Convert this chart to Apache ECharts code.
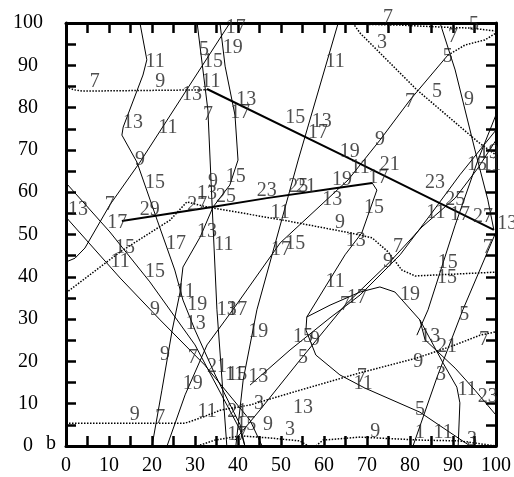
<!DOCTYPE html>
<html>
<head>
<meta charset="utf-8">
<script src="https://cdn.jsdelivr.net/npm/echarts@6/dist/echarts.min.js"></script>
<style>
  html, body { margin: 0; padding: 0; background: #fff; }
  #chart { width: 514px; height: 477px; }
</style>
</head>
<body>
<div id="chart"></div>
<script>
// Axis ranges and labelled ticks
const xRange = [0, 100];
const yRange = [0, 100];
const tickStep = 5;
const labelStep = 10;
const xAxisTitle = 'b';

// Contour paths, [x, y] in data units
const dottedA = [[0,84.9],[1.9,84.2],[3.7,83.9],[32.8,84.2]];
const thickB = [[32.8,84.4],[66.2,67.8],[99.5,51.1]];
const thickT = [[13,53.2],[34,56.5],[46.7,58.6],[63,61],[71.2,62.2]];
const solidP = [[71.2,62.2],[72.3,60.5],[68.8,50.4],[64.9,45.2],[56,30.5],[55.8,27.4],[58.1,21.5],[63.7,16.8],[69.5,13.7],[82.3,8],[91.2,1.9],[94,0]];
const solidC = [[38.1,100],[17.2,67.1],[10.2,57],[4.4,46.8],[2.1,44.4],[0,43.5]];
const solidD = [[88.8,92.4],[80,81.8],[73,72.3],[65.6,62.9],[49.8,48],[38.8,32.2],[32.8,23.9],[27.7,12.1],[23.5,0]];
const dottedE = [[0,36.2],[12.6,45.9],[24.2,53.4],[28.1,57.7],[32.8,56.5],[50.5,53.4],[66,50.4],[71.2,49.2],[74.9,45.9],[78.1,41.6],[81.2,40.2],[100,41.1]];
const dottedF = [[66.7,100],[68.4,97.6],[81.6,84.2],[95.8,71.9],[100,68.8]];
const dottedG = [[64.9,99.8],[77.7,99.5],[88.1,99],[94,98.8],[100,98.1]];
const dottedH = [[88.8,92.4],[92.8,94.8],[97.4,96],[100,97.6]];
const solidI = [[87,100],[90.5,88.9],[95.1,70],[98.1,58.2],[99.5,51.1]];
const solidJ = [[63.3,100],[54,67.6],[44.4,32.2],[41.2,15.6],[39.5,0]];
const solidK1 = [[30.5,100],[33,79.4],[34,56.5],[35.1,32.2],[37.4,0]];
const solidK2 = [[35.8,100],[37,89.8],[39.3,78.2],[40,67.6],[38.1,61.7],[34.2,56.5],[31.2,49.4],[27.2,42.3],[26.5,36.2],[24.7,27.4],[22.3,13.2],[20,0]];
const solidM = [[17.2,100],[18.8,91.3],[17.9,87.7],[13.3,75.4],[13,73.5],[16.5,67.1],[21.2,53.4],[25.3,41.6],[27.2,34.5],[30,27.4],[34.7,16.8],[40.5,5],[41.6,0]];
const solidN1 = [[0,62.2],[10.2,50.6],[19.5,38.8],[30,23.9],[40.5,3.8],[41.6,0]];
const solidN2 = [[0,54.1],[12.6,39.7],[21.9,29.8],[32.3,19.1],[42.8,6.1],[45.6,0]];
const solidQ = [[56,30.5],[61.4,33.3],[68.4,36.4],[73,37.6],[76.5,36.4],[82.3,29.8],[83.5,25.1],[90.5,18.4],[95.1,13.2],[100,7.3]];
const solidR = [[82.3,29.8],[87.7,19.6],[90.9,13.9],[91.6,10.2],[91.2,0]];
const solidS1 = [[80.7,0],[86.3,16.3],[92.3,32.2],[100,50.6]];
const solidS2 = [[100,78.3],[95.8,67.6],[90.5,52.2],[84.2,32.2],[81.6,26.2]];
const solidX1 = [[39.3,1.4],[45.1,8.5],[54.4,20.3],[64.9,33.3],[75.3,43.5],[82.8,51.8],[90.5,58.6],[95.8,65.7],[100,72.3]];
const solidX2 = [[42.8,14.4],[52.1,22.7],[61.4,30.3],[68.4,35.7],[77.7,45.2],[84.7,54.6],[91.6,64.1],[100,74.7]];
const dottedV = [[0,5.4],[27.7,5.4],[31.2,6.6],[36,8.5],[42.8,9.7],[54.4,13.2],[68.4,17.3],[81.6,20.8],[90.5,23.9],[96.3,26.2],[100,27]];
const dottedW1 = [[30.5,0],[34.7,1.4],[40.5,2.4],[47.4,1.9],[54.4,1.2],[56.3,0]];
const dottedW2 = [[58.1,0],[59.8,1.4],[68.4,2.1],[82.3,1.4],[91.6,1.2],[100,0]];

// Contour level labels: [x, y, level]
const levelLabels = [
  [6.7,86.1,'7'],[21.9,86.1,'9'],[29.3,83,'13'],[20.7,90.8,'11'],[15.6,76.4,'13'],[23.7,75.2,'11'],
  [17.2,67.6,'9'],[20.7,62.2,'15'],[10.2,57,'7'],[2.8,55.8,'13'],[11.9,52.7,'17'],[19.5,55.8,'29'],
  [30.5,57,'27'],[32.8,59.6,'13'],[37.2,58.9,'25'],[34.2,62.4,'9'],[39.5,63.6,'15'],[46.7,60.3,'23'],
  [54,61.2,'25'],[55.8,61.2,'21'],[64.2,62.9,'19'],[61.9,58.2,'13'],[49.8,55.1,'11'],
  [13.7,46.8,'15'],[12.6,43.5,'11'],[25.6,47.8,'17'],[20.7,41.1,'15'],[27.7,36.4,'11'],[30.5,33.3,'19'],
  [30.2,28.8,'13'],[20.7,32.2,'9'],[32.8,50.6,'13'],[36.7,47.5,'11'],[50,46.3,'17'],[53.3,47.8,'15'],
  [63.7,52.7,'9'],[67.4,48.5,'13'],[71.6,56.3,'15'],[77.2,47,'7'],[74.9,43.5,'9'],[88.8,43.3,'15'],
  [88.6,39.7,'15'],[98.1,46.8,'7'],[62.6,38.8,'11'],[67.7,35,'17'],[64.9,33.3,'7'],[80,35.7,'19'],
  [92.6,31,'5'],[84.7,25.8,'13'],[88.6,23.4,'21'],[97.2,25.1,'7'],[81.9,19.9,'9'],[87.2,16.8,'3'],
  [93.3,13.2,'11'],[98.1,11.6,'23'],[82.3,8.5,'5'],[82.3,3.1,'1'],[87.7,3.1,'11'],[94.4,1.4,'3'],
  [71.9,3.3,'9'],[68.8,16.3,'7'],[69.1,14.7,'11'],[55.1,9,'13'],[44.9,9.9,'3'],[47,5,'9'],[52.1,3.8,'3'],
  [55.1,20.8,'5'],[55.1,25.8,'15'],[57.9,25.1,'9'],[44.7,27,'19'],[37.4,32.2,'13'],[39.8,32.2,'17'],
  [23,21.5,'9'],[29.5,20.8,'7'],[35.1,18.7,'21'],[39.8,16.8,'15'],[39.2,16.8,'11'],[44.7,16.3,'13'],
  [29.5,14.7,'19'],[32.8,8,'11'],[16,7.3,'9'],[21.9,6.6,'7'],[39.8,8,'21'],[41.9,5,'15'],[39.8,2.6,'17'],
  [39.5,98.8,'17'],[32.1,93.6,'5'],[34.2,90.8,'15'],[38.8,94.1,'19'],[33.7,86.1,'11'],[41.9,81.8,'13'],
  [40.5,78.7,'17'],[33,78.3,'7'],[53.3,77.5,'15'],[59.5,76.6,'13'],[58.6,74,'17'],[62.6,90.8,'11'],
  [74.9,101.2,'7'],[73.5,95.3,'3'],[88.8,92,'5'],[90,96.7,'7'],[94.9,99.5,'5'],[80,81.3,'7'],
  [86.3,83.7,'5'],[93.7,81.8,'9'],[73,72.3,'9'],[66,69.5,'19'],[68.4,65.7,'11'],[75.3,66.4,'21'],
  [72.6,63.4,'17'],[85.8,62.2,'23'],[90.5,58.2,'25'],[86,55.1,'11'],[91.6,54.6,'17'],[97,54.1,'27'],
  [102.6,52.5,'13'],[95.6,66.4,'15'],[98.9,66.6,'11'],[98.3,69.3,'19']
];

const thin = { color: '#000', width: 1, type: 'solid' };
const thick = { color: '#000', width: 2, type: 'solid' };
const dots = { color: '#000', width: 1.5, type: [1.5, 1.5] };

const paths = [
  [dottedA, dots], [thickB, thick], [thickT, thick], [solidP, thin], [solidC, thin],
  [solidD, thin], [dottedE, dots], [dottedF, dots], [dottedG, dots], [dottedH, dots],
  [solidI, thin], [solidJ, thin], [solidK1, thin], [solidK2, thin], [solidM, thin],
  [solidN1, thin], [solidN2, thin], [solidQ, thin], [solidR, thin], [solidS1, thin],
  [solidS2, thin], [solidX1, thin], [solidX2, thin], [dottedV, dots], [dottedW1, dots], [dottedW2, dots]
];

const serif = '"Liberation Serif", "DejaVu Serif", serif';

const lineSeries = paths.map(([data, style]) => ({
  type: 'line',
  data: data,
  showSymbol: false,
  symbol: 'none',
  lineStyle: style,
  silent: true,
  animation: false,
  z: 2
}));

const labelSeries = {
  type: 'scatter',
  data: levelLabels,
  symbolSize: 0,
  clip: false,
  silent: true,
  animation: false,
  z: 5,
  label: {
    show: true,
    position: 'inside',
    formatter: p => p.value[2],
    fontFamily: serif,
    fontSize: 20,
    color: '#222'
  }
};

function frameAxis(extra) {
  return Object.assign({
    type: 'value', interval: tickStep,
    axisLine: { show: true, onZero: false, lineStyle: { color: '#000', width: 3 } },
    axisTick: { show: true, inside: true, length: 10, lineStyle: { color: '#000', width: 2.5 } },
    splitLine: { show: false }
  }, extra);
}

const chart = echarts.init(document.getElementById('chart'), null, { renderer: 'canvas' });
chart.setOption({
  backgroundColor: '#fff',
  animation: false,
  grid: { left: 66, top: 23, right: 18, bottom: 31 },
  xAxis: [
    frameAxis({
      min: xRange[0], max: xRange[1], position: 'bottom',
      axisLabel: {
        fontFamily: serif, fontSize: 20, color: '#000', margin: 10,
        formatter: v => (v % labelStep === 0 ? String(v) : '')
      }
    }),
    frameAxis({ min: xRange[0], max: xRange[1], position: 'top', axisLabel: { show: false } })
  ],
  yAxis: [
    frameAxis({
      min: yRange[0], max: yRange[1], position: 'left',
      axisLabel: {
        fontFamily: serif, fontSize: 20, color: '#000', margin: 38, align: 'center',
        padding: [0, 0, 8, 0],
        formatter: v => (v % labelStep === 0 ? String(v) : '')
      }
    }),
    frameAxis({ min: yRange[0], max: yRange[1], position: 'right', axisLabel: { show: false } })
  ],
  graphic: [{
    type: 'text', left: 46, top: 434,
    style: { text: xAxisTitle, font: '20px ' + serif, fill: '#000' }
  }],
  series: lineSeries.concat([labelSeries])
});
</script>
</body>
</html>
